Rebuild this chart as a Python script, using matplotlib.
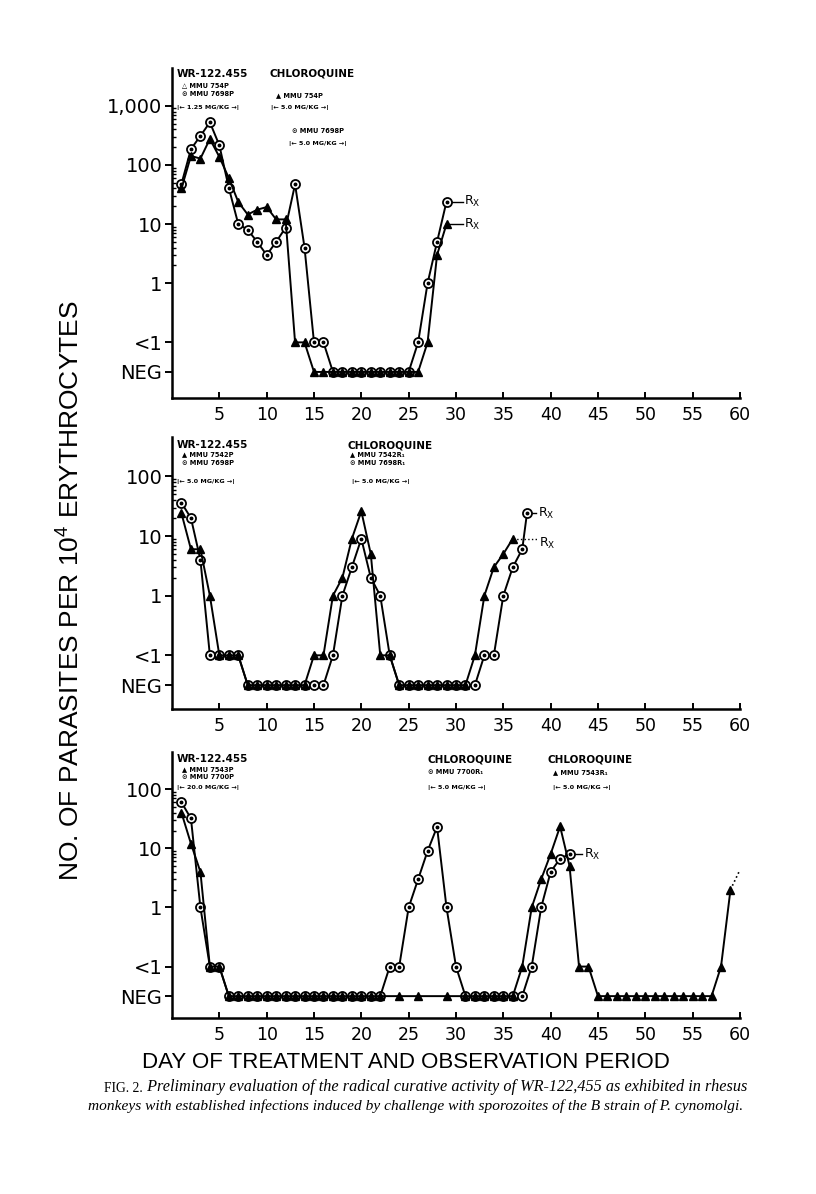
import numpy as np
import matplotlib.pyplot as plt
from matplotlib.ticker import FixedLocator, NullFormatter

NEG = 10 ** -1.5   # "NEG" row, half a decade under "<1"
LT1 = 0.1          # "<1" row

# --- panel 1: WR-122,455 1.25 mg/kg ---
p1_days = np.arange(1, 30)
p1_circ = [48, 185, 310, 525, 215, 41, 10, 8, 5, 3, 5, 8.7, 47, 4, LT1, LT1,
           NEG, NEG, NEG, NEG, NEG, NEG, NEG, NEG, NEG, LT1, 1, 5, 24]
p1_tri = [40, 142, 128, 275, 137, 60, 23.6, 14.5, 17.5, 19.4, 12, 12, LT1, LT1,
          NEG, NEG, NEG, NEG, NEG, NEG, NEG, NEG, NEG, NEG, NEG, NEG, LT1, 3, 10]

# --- panel 2: WR-122,455 5.0 mg/kg ---
p2_circ_days = list(range(1, 38)) + [37.5]
p2_circ = [36, 20, 4, LT1, LT1, LT1, LT1,
           NEG, NEG, NEG, NEG, NEG, NEG, NEG, NEG, NEG,
           LT1, 1, 3, 9, 2, 1, LT1,
           NEG, NEG, NEG, NEG, NEG, NEG, NEG, NEG, NEG,
           LT1, LT1, 1, 3, 6, 24]
p2_tri_days = np.arange(1, 37)
p2_tri = [24, 6, 6, 1, LT1, LT1, LT1,
          NEG, NEG, NEG, NEG, NEG, NEG, NEG,
          LT1, LT1, 1, 2, 9, 26, 5, LT1, LT1,
          NEG, NEG, NEG, NEG, NEG, NEG, NEG, NEG,
          LT1, 1, 3, 5, 9]

# --- panel 3: WR-122,455 20.0 mg/kg ---
p3_circ_days = np.arange(1, 43)
p3_circ = [60, 32, 1, LT1, LT1,
           NEG, NEG, NEG, NEG, NEG, NEG, NEG, NEG, NEG, NEG, NEG, NEG, NEG, NEG, NEG, NEG, NEG,
           LT1, LT1, 1, 3, 9, 23, 1, LT1,
           NEG, NEG, NEG, NEG, NEG, NEG, NEG,
           LT1, 1, 4, 6.7, 8]
p3_tri_days = list(range(1, 23)) + [24, 26, 29] + list(range(31, 60))
p3_tri = [40, 12, 4, LT1, LT1,
          NEG, NEG, NEG, NEG, NEG, NEG, NEG, NEG, NEG, NEG, NEG, NEG, NEG, NEG, NEG, NEG, NEG,
          NEG, NEG, NEG,
          NEG, NEG, NEG, NEG, NEG, NEG,
          LT1, 1, 3, 8, 23.5, 5, LT1, LT1,
          NEG, NEG, NEG, NEG, NEG, NEG, NEG, NEG, NEG, NEG, NEG, NEG, NEG,
          LT1, 2]
p3_tail_days = [59, 59.9]
p3_tail = [2, 4]

# treatment marks (Rx): start day, end day, level
p1_rx = [(29, 30.7, 24), (29, 30.7, 10)]
p2_rx_circ = (37.5, 38.5, 24)
p2_rx_tri = (36, 38.6, 9)
p3_rx = (42, 43.3, 8)

ytick_vals = [NEG, LT1, 1, 10, 100, 1000]
ytick_labs = ["NEG", "<1", "1", "10", "100", "1,000"]
xticks = [5, 10, 15, 20, 25, 30, 35, 40, 45, 50, 55, 60]

W, H = 816, 1194
fig = plt.figure(figsize=(W / 100, H / 100), dpi=100)


def px(x, y):
    return x / W, 1 - y / H


def setup(ax, lo, hi, top_dec):
    ax.set_yscale("log")
    ax.set_xlim(0, 60)
    ax.set_ylim(10 ** lo, 10 ** hi)
    for s in ["top", "right"]:
        ax.spines[s].set_visible(False)
    for s in ["left", "bottom"]:
        ax.spines[s].set_linewidth(1.8)
    ax.set_xticks(xticks)
    ax.set_xticklabels([str(t) for t in xticks], fontsize=12.5)
    ax.tick_params(axis="x", direction="in", length=4, width=1.4, pad=6)
    ax.set_yticks([v for v in ytick_vals if v < 10 ** hi])
    ax.set_yticklabels([l for v, l in zip(ytick_vals, ytick_labs) if v < 10 ** hi],
                       fontsize=14)
    minors = [k * 10 ** d for d in range(0, top_dec) for k in range(2, 10)]
    ax.yaxis.set_minor_locator(FixedLocator(minors))
    ax.yaxis.set_minor_formatter(NullFormatter())
    ax.tick_params(axis="y", which="major", direction="out", length=5, width=1.4, pad=2)
    ax.tick_params(axis="y", which="minor", direction="in", length=3, width=1.0)


def circles(ax, d, v):
    ax.plot(d, v, "-", color="k", lw=1.4, marker="o", ms=6.5, mfc="white",
            mec="k", mew=1.3, zorder=3)
    ax.plot(d, v, ls="none", marker="o", ms=1.8, color="k", zorder=4)


def triangles(ax, d, v):
    ax.plot(d, v, "-", color="k", lw=1.4, marker="^", ms=6, zorder=5)


def rx(ax, seg, ls="-", dy=1.0):
    x0, x1, y = seg
    ax.plot([x0, x1], [y, y], ls, color="k", lw=1.0, zorder=2)
    ax.text(x1 + 0.2, y * dy, r"$\mathregular{R_X}$", fontsize=9, va="center", ha="left")


def label(x, y, s, size, bold=True):
    fig.text(*px(x, y), s, fontsize=size, fontweight="bold" if bold else "normal",
             ha="left", va="center")


# ---------------- panel 1 ----------------
ax1 = fig.add_axes([0.2108, 0.6667, 0.696, 0.2764])
setup(ax1, -1.94, 3.64, 3)
circles(ax1, p1_days, p1_circ)
triangles(ax1, p1_days, p1_tri)
for seg in p1_rx:
    rx(ax1, seg)

label(177, 74, "WR-122.455", 7.5)
label(182, 85, "△ MMU 754P", 4.8)
label(182, 94, "⊙ MMU 7698P", 4.8)
label(177, 107, "|← 1.25 MG/KG →|", 4.6)
label(270, 74, "CHLOROQUINE", 7.5)
label(276, 95, "▲ MMU 754P", 4.8)
label(271, 107, "|← 5.0 MG/KG →|", 4.6)
label(292, 131, "⊙ MMU 7698P", 4.8)
label(289, 143, "|← 5.0 MG/KG →|", 4.6)

# ---------------- panel 2 ----------------
ax2 = fig.add_axes([0.2108, 0.4062, 0.696, 0.2278])
setup(ax2, -1.90, 2.66, 2)
circles(ax2, p2_circ_days, p2_circ)
triangles(ax2, p2_tri_days, p2_tri)
rx(ax2, p2_rx_circ)
rx(ax2, p2_rx_tri, ls=":", dy=0.85)

label(177, 445, "WR-122.455", 7.5)
label(182, 454, "▲ MMU 7542P", 4.8)
label(182, 463, "⊙ MMU 7698P", 4.8)
label(177, 482, "|← 5.0 MG/KG →|", 4.6)
label(347, 445, "CHLOROQUINE", 7.5)
label(350, 454, "▲ MMU 7542R₁", 4.8)
label(350, 463, "⊙ MMU 7698R₁", 4.8)
label(352, 482, "|← 5.0 MG/KG →|", 4.6)

# ---------------- panel 3 ----------------
ax3 = fig.add_axes([0.2108, 0.1474, 0.696, 0.2228])
setup(ax3, -1.87, 2.63, 2)
circles(ax3, p3_circ_days, p3_circ)
triangles(ax3, p3_tri_days, p3_tri)
ax3.plot(p3_tail_days, p3_tail, ":", color="k", lw=1.2)
rx(ax3, p3_rx)

label(177, 759, "WR-122.455", 7.5)
label(182, 769, "▲ MMU 7543P", 4.8)
label(182, 777, "⊙ MMU 7700P", 4.8)
label(177, 788, "|← 20.0 MG/KG →|", 4.6)
label(427, 759, "CHLOROQUINE", 7.5)
label(428, 772, "⊙ MMU 7700R₁", 4.8)
label(428, 788, "|← 5.0 MG/KG →|", 4.6)
label(547, 759, "CHLOROQUINE", 7.5)
label(553, 772, "▲ MMU 7543R₁", 4.8)
label(553, 788, "|← 5.0 MG/KG →|", 4.6)

# axis titles
fig.text(*px(70, 591), r"NO. OF PARASITES PER 10$^{\mathregular{4}}$ ERYTHROCYTES",
         rotation=90, ha="center", va="center", fontsize=19, family="Liberation Sans")
fig.text(*px(406, 1062), "DAY OF TREATMENT AND OBSERVATION PERIOD",
         ha="center", va="center", fontsize=16, family="Liberation Sans")

# caption
t0 = fig.text(*px(104, 1092), "FIG. 2.", fontsize=9.8, family="Liberation Serif",
              ha="left", va="baseline")
ax3.annotate(" Preliminary evaluation of the radical curative activity of WR-122,455 "
             "as exhibited in rhesus", xy=(1, 0), xycoords=t0, va="bottom", ha="left",
             fontsize=11.7, family="Liberation Serif", style="italic",
             annotation_clip=False)
fig.text(*px(88, 1110), "monkeys with established infections induced by challenge "
         "with sporozoites of the B strain of P. cynomolgi.",
         fontsize=11.1, family="Liberation Serif", style="italic", ha="left", va="baseline")

fig.savefig("out.png", dpi=100, facecolor="white")
